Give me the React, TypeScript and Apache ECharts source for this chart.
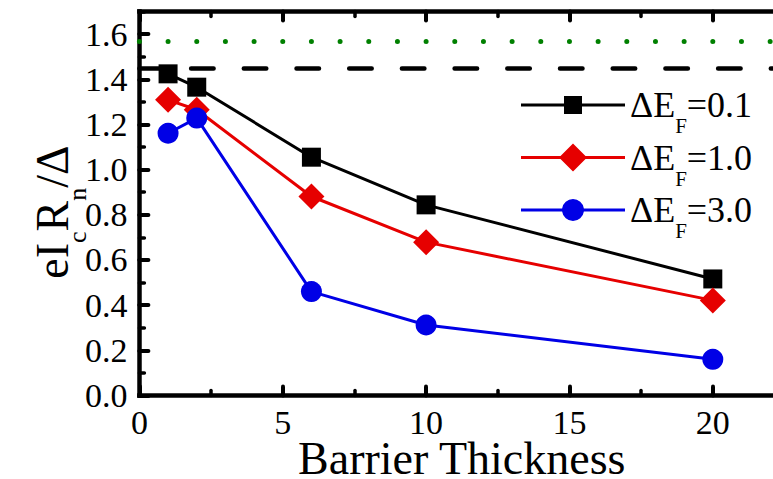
import React, { useEffect, useRef } from "react";
import * as echarts from "echarts";

// Barrier thickness values (x)
const thickness = [1, 2, 6, 10, 20];
// eIcRn/Δ for each ΔE_F
const seriesLabels = ["0.1", "1.0", "3.0"];
const valuesDE01 = [1.424, 1.365, 1.055, 0.844, 0.516];
const valuesDE10 = [1.309, 1.265, 0.881, 0.679, 0.421];
const valuesDE30 = [1.161, 1.228, 0.46, 0.312, 0.16];
// Horizontal reference levels
const dashedLevel = 1.452;
const dottedLevel = 1.567;

const FONT = "Liberation Serif";

// Legend icons: line with a marker on it (square / diamond / circle)
const legendIcons = [
  "path://M0,7.5L43,7.5L43,0L61,0L61,7.5L104,7.5L104,10.5L61,10.5L61,18L43,18L43,10.5L0,10.5Z",
  "path://M0,12.5L39.5,12.5L52,0L64.5,12.5L104,12.5L104,15.5L64.5,15.5L52,28L39.5,15.5L0,15.5Z",
  "path://M0,9.5L41.1,9.5A11,11,0,0,1,62.9,9.5L104,9.5L104,12.5L62.9,12.5A11,11,0,0,1,41.1,12.5L0,12.5Z",
];

export default function App() {
  const ref = useRef<HTMLDivElement>(null);
  useEffect(() => {
    if (!ref.current) return;
    const chart = echarts.init(ref.current, undefined, { renderer: "svg" });
    const names = seriesLabels.map((s) => "ΔE_F=" + s);
    const colors = ["#000000", "#e60000", "#0000e6"];
    const symbols = ["rect", "diamond", "circle"];
    const sizes = [19, 26, 21];
    const all = [valuesDE01, valuesDE10, valuesDE30];
    const series: any[] = all.map((vals, i) => ({
      type: "line",
      name: names[i],
      data: thickness.map((x, j) => [x, vals[j]]),
      symbol: symbols[i],
      symbolSize: sizes[i],
      showSymbol: true,
      lineStyle: { color: colors[i], width: 3 },
      itemStyle: { color: colors[i] },
      z: 3 + i,
    }));
    series[0].markLine = {
      silent: true,
      symbol: ["none", "none"],
      label: { show: false },
      animation: false,
      data: [
        {
          yAxis: dashedLevel,
          lineStyle: { color: "#000", width: 4.5, type: [22.5, 30.2], dashOffset: 1, cap: "round" },
        },
        {
          yAxis: dottedLevel,
          lineStyle: { color: "#008000", width: 5, type: [0.01, 28.66], cap: "round" },
        },
      ],
    };
    const axisLineStyle = { color: "#000", width: 4.5, cap: "square" };
    chart.setOption({
      animation: false,
      backgroundColor: "#fff",
      grid: {
        left: 139.4,
        top: 11.5,
        right: 19.85,
        bottom: 83.5,
        containLabel: false,
        outerBoundsMode: "none",
      },
      legend: {
        orient: "vertical",
        left: 521,
        top: 73.5,
        padding: 0,
        itemWidth: 104,
        itemHeight: 28,
        itemGap: -10.5,
        symbolKeepAspect: true,
        data: names.map((n, i) => ({
          name: n,
          icon: legendIcons[i],
          itemStyle: { color: colors[i], borderWidth: 0 },
        })),
        selectedMode: false,
        formatter: (name: string) => {
          const v = name.split("=")[1];
          return "ΔE{s|F}=" + v;
        },
        textStyle: {
          fontFamily: FONT,
          fontSize: 36,
          lineHeight: 36,
          color: "#000",
          rich: {
            s: { fontFamily: FONT, fontSize: 21, lineHeight: 21, padding: [42, 0, 0, 0], color: "#000" },
          },
        },
      },
      xAxis: [
        {
          type: "value",
          position: "bottom",
          min: 0,
          max: 25,
          interval: 5,
          name: "Barrier Thickness",
          nameLocation: "middle",
          nameGap: 43.5,
          nameMoveOverlap: false,
          nameTextStyle: {
            fontFamily: FONT,
            fontSize: 46,
            lineHeight: 38,
            color: "#000",
            padding: [0, 72, 0, 0],
          },
          axisLine: { show: true, onZero: false, lineStyle: axisLineStyle },
          axisTick: { show: true, inside: true, length: 9, lineStyle: { color: "#000", width: 4, cap: "round" } },
          minorTick: { show: true, splitNumber: 2, length: 5, lineStyle: { color: "#000", width: 3.5, cap: "round" } },
          splitLine: { show: false },
          axisLabel: {
            show: true,
            margin: 11,
            fontFamily: FONT,
            fontSize: 34,
            lineHeight: 32,
            color: "#000",
            showMaxLabel: false,
          },
        },
        {
          type: "value",
          position: "top",
          min: 0,
          max: 25,
          interval: 5,
          axisLine: { show: true, onZero: false, lineStyle: axisLineStyle },
          axisTick: { show: true, inside: true, length: 9, lineStyle: { color: "#000", width: 4, cap: "round" } },
          minorTick: { show: true, splitNumber: 2, length: 5, lineStyle: { color: "#000", width: 3.5, cap: "round" } },
          splitLine: { show: false },
          axisLabel: { show: false },
        },
      ],
      yAxis: [
        {
          type: "value",
          position: "left",
          min: 0,
          max: 1.7,
          interval: 0.2,
          name: "eI{s|c}R{s|n}/Δ",
          nameLocation: "middle",
          nameGap: 64,
          nameMoveOverlap: false,
          nameTextStyle: {
            fontFamily: FONT,
            fontSize: 46,
            lineHeight: 46,
            color: "#000",
            padding: [0, 17, 0, 0],
            rich: {
              s: { fontFamily: FONT, fontSize: 26, lineHeight: 26, padding: [50, 0, 0, 0], color: "#000" },
            },
          },
          axisLine: { show: true, onZero: false, lineStyle: axisLineStyle },
          axisTick: { show: true, inside: true, length: 9, lineStyle: { color: "#000", width: 4, cap: "round" } },
          splitLine: { show: false },
          axisLabel: {
            show: true,
            margin: 12,
            fontFamily: FONT,
            fontSize: 34,
            lineHeight: 34,
            color: "#000",
            showMaxLabel: false,
            formatter: (v: number) => v.toFixed(1),
          },
        },
        {
          type: "value",
          position: "left",
          min: 0,
          max: 1.7,
          interval: 0.1,
          axisLine: { show: false },
          axisTick: { show: true, inside: true, length: 5, lineStyle: { color: "#000", width: 3.5, cap: "round" } },
          splitLine: { show: false },
          axisLabel: { show: false },
        },
      ],
      series,
    });
    return () => chart.dispose();
  }, []);
  return (
    <div
      style={{
        position: "fixed",
        left: 0,
        top: 0,
        width: 773,
        height: 479,
        overflow: "hidden",
        background: "#fff",
      }}
    >
      <div ref={ref} style={{ width: 876, height: 479 }} />
    </div>
  );
}
